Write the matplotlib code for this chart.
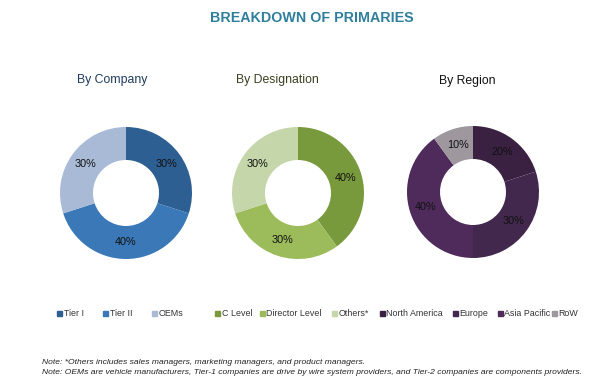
import matplotlib.pyplot as plt
from matplotlib.patches import Rectangle

# data
company_labels = ["Tier I", "Tier II", "OEMs"]
company_vals = [30, 40, 30]
company_colors = ["#2e5f92", "#3b78b8", "#a9bad7"]

desig_labels = ["C Level", "Director Level", "Others*"]
desig_vals = [40, 30, 30]
desig_colors = ["#789a3d", "#9cbb5a", "#c5d6aa"]

region_labels = ["North America", "Europe", "Asia Pacific", "RoW"]
region_vals = [20, 30, 40, 10]
region_colors = ["#3a2141", "#43284e", "#4f2b5b", "#9e979e"]

titles = ["By Company", "By Designation", "By Region"]
title_colors = ["#1f3a5f", "#3a4020", "#111111"]

plt.rcParams['font.family'] = ['Liberation Sans', 'DejaVu Sans']
W, H = 600, 391
fig = plt.figure(figsize=(6, 3.91), dpi=100)

fig.text(312 / W, 1 - 18 / H, "BREAKDOWN OF PRIMARIES", ha='center', va='center',
         fontsize=10.3, fontweight='bold', color="#2f7f9c")

centers = [(126, 193), (298, 193), (473, 192)]
title_pos = [(112, 80), (277, 80), (467, 81)]
R = 66
groups = [(company_vals, company_colors), (desig_vals, desig_colors), (region_vals, region_colors)]

for (cx, cy), (vals, cols), t, tc, (tx, ty) in zip(centers, groups, titles, title_colors, title_pos):
    ax = fig.add_axes([(cx - R) / W, (H - cy - R) / H, 2 * R / W, 2 * R / H])
    ax.pie(vals, colors=cols, startangle=90, counterclock=False, radius=1,
           wedgeprops=dict(width=0.5, edgecolor='none'),
           autopct='%d%%', pctdistance=0.75,
           textprops=dict(fontsize=7.8, color='#111111'))
    ax.set_xlim(-1, 1)
    ax.set_ylim(-1, 1)
    ax.set_aspect('equal')
    ax.axis('off')
    fig.text(tx / W, 1 - ty / H, t, ha='center', va='center', fontsize=8.8, color=tc)

# legend
leg_labels = company_labels + desig_labels + region_labels
leg_colors = company_colors + desig_colors + region_colors
leg_x = [57, 103, 152, 215, 260, 332, 380, 453, 498, 552]
leg_y = 313
for x, lab, c in zip(leg_x, leg_labels, leg_colors):
    fig.add_artist(Rectangle((x / W, 1 - (leg_y + 2.5) / H), 5 / W, 5 / H,
                             transform=fig.transFigure, color=c))
    fig.text((x + 6.5) / W, 1 - leg_y / H, lab, ha='left', va='center',
             fontsize=6.4, color='#333333')

notes = [
    "Note: *Others includes sales managers, marketing managers, and product managers.",
    "Note: OEMs are vehicle manufacturers, Tier-1 companies are drive by wire system providers, and Tier-2 companies are components providers.",
]
for i, n in enumerate(notes):
    fig.text(42 / W, 1 - (362 + 10 * i) / H, n, ha='left', va='center',
             fontsize=6.1, style='italic', color='#222222')

fig.savefig("out.png", dpi=100, facecolor='white')
